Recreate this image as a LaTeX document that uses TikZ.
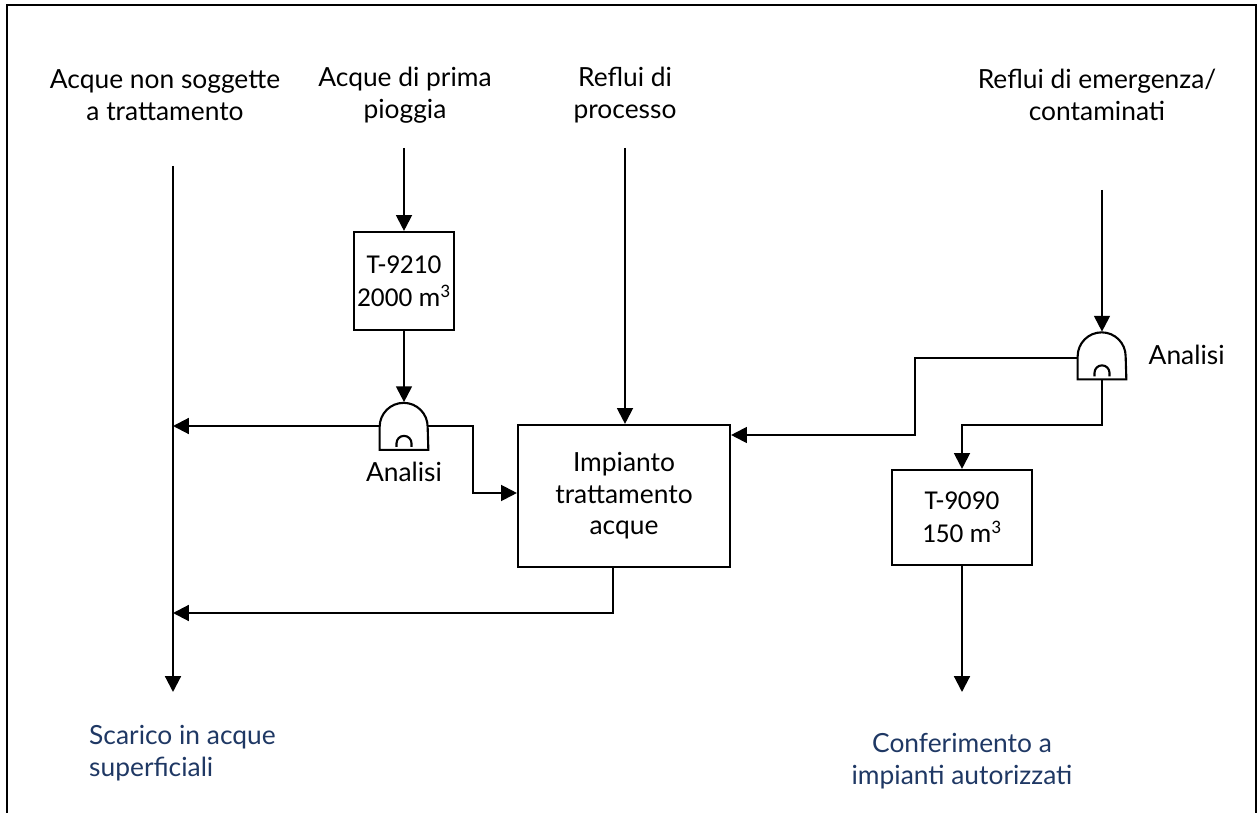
\documentclass[tikz,border=0pt]{standalone}
\usepackage{fontspec}
\setmainfont{Lato}
\newfontfamily\boxfont{Carlito}
\usetikzlibrary{arrows.meta,positioning}
\definecolor{outblue}{RGB}{31,56,100}

% outline of an "Analisi" sampling point, drawn on a named node
\newcommand{\analisigate}[1]{%
  \draw[line width=1.2pt] (#1.south west) -- ([yshift=0.46cm]#1.south west)
    arc[start angle=180, end angle=0, radius=0.48cm] -- (#1.south east) -- cycle;
  \draw[line width=1.2pt] ([xshift=-0.15cm, yshift=0.06cm]#1.south) -- ++(0,0.07)
    arc[start angle=180, end angle=0, radius=0.15cm] -- ++(0,-0.07);
}

\begin{document}
\begin{tikzpicture}[
    box/.style={rectangle, draw=black, line width=1.2pt, align=center, font=\boxfont\fontsize{15.5}{19}\selectfont, inner sep=2pt},
    gate/.style={rectangle, minimum width=0.96cm, minimum height=0.94cm, inner sep=0pt},
    lbl/.style={align=center, font=\fontsize{15}{18}\selectfont},
    outlbl/.style={lbl, text=outblue},
    arrow/.style={-{Triangle[length=9pt, width=9pt]}, line width=1.2pt}
]
\useasboundingbox (0,0) rectangle (25.16,16.24);

% Frame
\draw[line width=1.6pt] (0.14,-0.3) -- (0.14,16.14) -- (25.12,16.14) -- (25.12,-0.3);

% Top labels
\node[lbl] (nontratt) at (3.30, 14.34) {Acque non soggette\\a trattamento};
\node[lbl] (prima) at (8.10, 14.34) {Acque di prima\\pioggia};
\node[lbl] (processo) at (12.50, 14.34) {Reflui di\\processo};
\node[lbl] (emerg) at (21.94, 14.34) {Reflui di emergenza/\\contaminati};

% Tanks and plant
\node[box, minimum width=1.64cm, minimum height=1.96cm] (t9210) at (8.08, 10.62) {T-9210\\2000 m\textsuperscript{3}};
\node[box, minimum width=4.24cm, minimum height=2.84cm, font=\fontsize{15}{18}\selectfont] (impianto) at (12.48, 6.32) {Impianto\\trattamento\\acque};
\node[box, minimum width=2.80cm, minimum height=1.90cm] (t9090) at (19.24, 5.89) {T-9090\\150 m\textsuperscript{3}};

% Analisi points
\node[gate] (gate1) at (8.08, 7.72) {};
\node[gate] (gate2) at (22.04, 9.13) {};
\analisigate{gate1}
\analisigate{gate2}
\node[lbl] (an1) at (8.08, 6.80) {Analisi};
\node[lbl, anchor=west] (an2) at (22.85, 9.14) {Analisi};

% Outlets
\node[outlbl, align=left, anchor=west] (scarico) at (1.66, 1.18) {Scarico in acque\\superficiali};
\node[outlbl] (conferim) at (19.24, 1.02) {Conferimento a\\impianti autorizzati};

% Line ends
\coordinate (s1) at (3.46, 12.92);
\coordinate (e1) at (3.46, 2.40);
\coordinate (s2) at (8.08, 13.28);
\coordinate (s3) at (12.50, 13.28);
\coordinate (s4) at (22.04, 12.44);
\coordinate (e4) at (19.24, 2.40);

% Arrows
\draw[arrow] (s1) -- (e1);
\draw[arrow] (s2) -- (t9210);
\draw[arrow] (t9210) -- (gate1);
\draw[arrow] (gate1.west) -- (gate1.west -| s1);
\draw[arrow] (gate1.east) -| (9.46, 6.38) -- (9.46, 6.38 -| impianto.west);
\draw[arrow] (s3) -- (impianto.north -| s3);
\draw[arrow] ([xshift=-0.22cm]impianto.south) |- (3.46, 3.98);
\draw[arrow] (s4) -- (gate2);
\draw[arrow] ([yshift=-0.05cm]gate2.west) -| (18.30, 7.54) -- (18.30, 7.54 -| impianto.east);
\draw[arrow] (gate2.south) |- (19.24, 7.74) -- (t9090);
\draw[arrow] (t9090) -- (e4);

\end{tikzpicture}
\end{document}
